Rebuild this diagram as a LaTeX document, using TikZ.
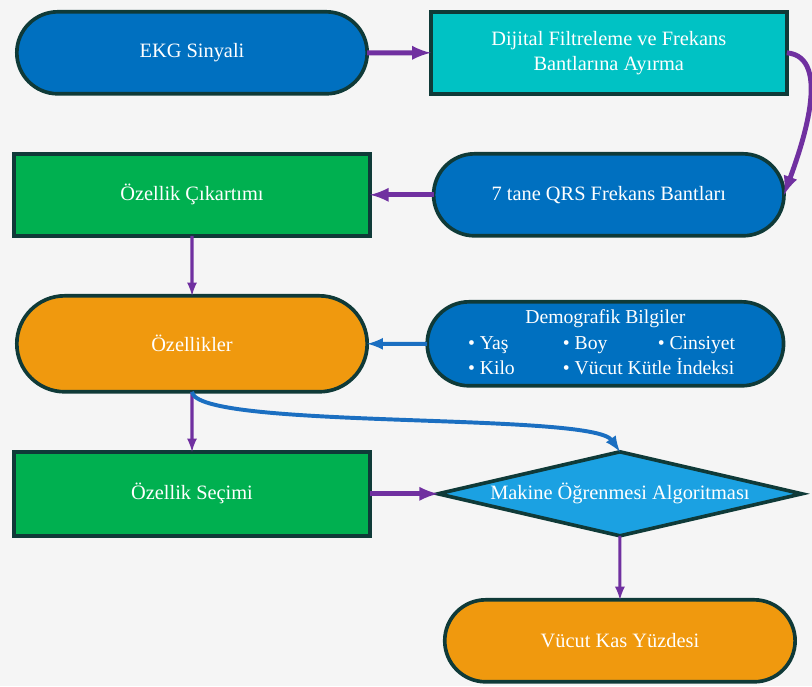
\documentclass[tikz,border=0pt]{standalone}
\usepackage{fontspec}
\setmainfont{Liberation Serif}
\usetikzlibrary{shapes.geometric, shapes.misc, arrows, positioning}

\definecolor{bgcol}{HTML}{F5F5F5}
\definecolor{edgecol}{HTML}{0F3A38}
\definecolor{pillblue}{HTML}{0070C0}
\definecolor{filtcyan}{HTML}{00C2C4}
\definecolor{featgreen}{HTML}{00B050}
\definecolor{outorange}{HTML}{F0990E}
\definecolor{algblue}{HTML}{1BA1E2}
\definecolor{arrpurple}{HTML}{7030A0}
\definecolor{arrblue}{HTML}{1B6FC1}

\tikzset{
  base/.style={draw=edgecol, line width=2.6pt, text=white, align=center, outer sep=0pt,
    font=\fontsize{14.5}{18}\selectfont, minimum width=8.9cm, minimum height=2.05cm, inner sep=2pt},
  pill/.style={base, rounded rectangle},
  block/.style={base, rectangle},
  choice/.style={base, diamond, aspect=5, minimum width=9.0cm, minimum height=2.1cm, inner sep=0pt},
  flow/.style={->, draw=arrpurple, line width=3.5pt},
  flowthin/.style={->, draw=arrpurple, line width=2.2pt},
  link/.style={->, draw=arrblue, line width=2.8pt}
}

\begin{document}
\begin{tikzpicture}[auto, node distance=1.5cm, >=latex]
    \useasboundingbox (0,0) rectangle (20.3,-17.15);
    \fill [bgcol] (0,0) rectangle (20.3,-17.15);

    % Signal and filtering
    \node [pill, fill=pillblue] (ekg) at (4.8,-1.32) {EKG Sinyali};
    \node [block, fill=filtcyan, right=1.59cm of ekg] (filter) {Dijital Filtreleme ve Frekans\\Bantlarına Ayırma};
    \node [pill, fill=pillblue, below=1.5cm of filter] (qrs) {7 tane QRS Frekans Bantları};
    \node [block, fill=featgreen, left=1.59cm of qrs] (extract) {Özellik Çıkartımı};

    % Features
    \node [pill, fill=outorange, minimum height=2.4cm, below=1.5cm of extract] (feat) {Özellikler};
    \node [pill, fill=pillblue, minimum width=9.05cm, minimum height=2.1cm, font=\fontsize{14}{17.5}\selectfont, right=1.5cm of feat] (demo) {%
      \begin{tabular}{@{}p{1.95cm}p{1.95cm}l@{}}
        \multicolumn{3}{c}{Demografik Bilgiler}\\[1pt]
        \textbullet\ Yaş & \textbullet\ Boy & \textbullet\ Cinsiyet\\
        \textbullet\ Kilo & \multicolumn{2}{l}{\textbullet\ Vücut Kütle İndeksi}
      \end{tabular}};

    % Selection and model
    \node [block, fill=featgreen, minimum height=2.1cm, below=1.5cm of feat] (select) {Özellik Seçimi};
    \node [choice, fill=algblue, right=1.7cm of select] (ml) {Makine Öğrenmesi Algoritması};
    \node [pill, fill=outorange, below=1.6cm of ml] (result) {Vücut Kas Yüzdesi};

    % Connections
    \draw [flow] (ekg) -- (filter);
    \draw [flow] (filter.east) to[out=-5, in=70, looseness=0.85] (qrs.east);
    \draw [flow] (qrs) -- (extract);
    \draw [flowthin] (extract) -- (feat);
    \draw [link] (demo) -- (feat);
    \draw [flowthin] (feat) -- (select);
    \draw [link] (feat.south) .. controls +(0.1,-0.95) and +(-0.7,1.0) .. (ml.north);
    \draw [flow] (select) -- (ml);
    \draw [flowthin] (ml) -- (result);

\end{tikzpicture}
\end{document}
